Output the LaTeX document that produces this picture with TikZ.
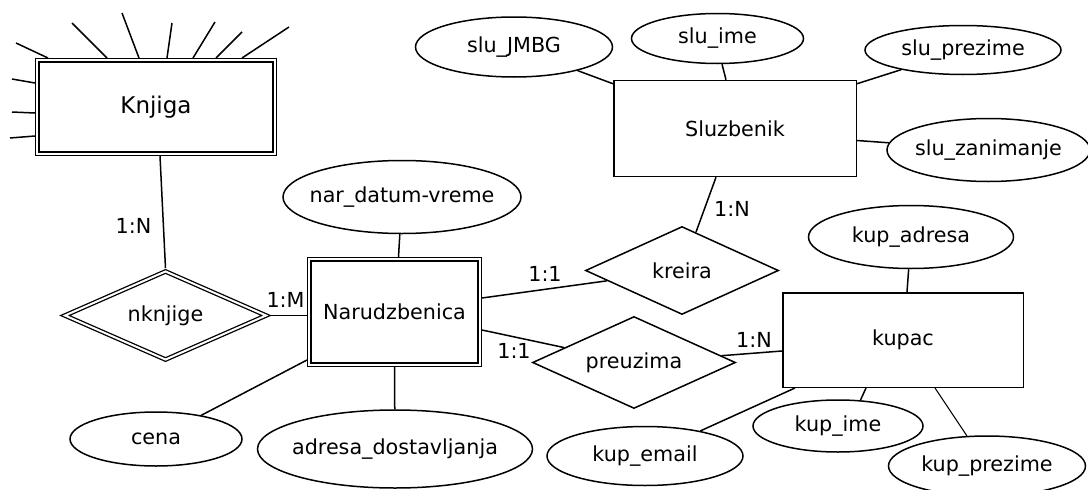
\documentclass[tikz,border=0pt]{standalone}
\usepackage{fontspec}
\setmainfont{DejaVu Sans}
\usetikzlibrary{shapes.geometric}
% zero-width label so the shape size comes only from the minimum dimensions
\newcommand\zw[1]{\makebox[0pt]{#1}}

\begin{document}
\begin{tikzpicture}[x=1pt,y=-1pt,
  every node/.style={font=\fontsize{20.7}{24}\selectfont},
  conn/.style={line width=1.5pt},
  thinconn/.style={line width=1pt},
  entity/.style={draw, rectangle, line width=1.5pt, inner sep=0pt},
  weakentity/.style={draw, rectangle, line width=1.3pt, double, double distance=2pt, outer sep=2.3pt, inner sep=0pt},
  attr/.style={draw, ellipse, line width=1.5pt, inner sep=0pt},
  rel/.style={draw, diamond, line width=1.5pt, inner sep=0pt},
  weakrel/.style={draw, diamond, line width=1.3pt, double, double distance=2pt, outer sep=2.3pt, inner sep=0pt},
  card/.style={inner sep=0pt},
]
\useasboundingbox (0,0) rectangle (1088,490);

% entities
\node[weakentity, minimum width=237.4pt, minimum height=93.4pt, font=\fontsize{23}{27}\selectfont] (knjiga) at (156,107) {Knjiga};
\node[weakentity, minimum width=170.4pt, minimum height=105.4pt] (nar) at (394.5,312) {Narudzbenica};
\node[entity, minimum width=242.5pt, minimum height=96pt] (sluz) at (735,128.5) {Sluzbenik};
\node[entity, minimum width=240.5pt, minimum height=94.5pt] (kupac) at (903,340) {kupac};

% relationships
\node[weakrel, minimum width=203pt, minimum height=90pt] (nknjige) at (165.5,315.5) {\zw{nknjige}};
\node[rel, minimum width=193pt, minimum height=88pt] (kreira) at (682,270.5) {\zw{kreira}};
\node[rel, minimum width=203pt, minimum height=92pt] (preuzima) at (634,362.5) {\zw{preuzima}};

% attributes
\node[attr, minimum width=238pt, minimum height=73pt] (datum) at (402,197) {\zw{nar\_datum-vreme}};
\node[attr, minimum width=172pt, minimum height=54pt] (cena) at (156,439) {\zw{cena}};
\node[attr, minimum width=275pt, minimum height=78pt] (adresa) at (395,449) {\zw{adresa\_dostavljanja}};
\node[attr, minimum width=197pt, minimum height=60pt] (jmbg) at (514,47) {\zw{slu\_JMBG}};
\node[attr, minimum width=172pt, minimum height=50pt] (sluime) at (717.5,38.5) {\zw{slu\_ime}};
\node[attr, minimum width=196pt, minimum height=49pt] (sluprez) at (963,50) {\zw{slu\_prezime}};
\node[attr, minimum width=203pt, minimum height=63pt] (sluzan) at (988.5,150) {\zw{slu\_zanimanje}};
\node[attr, minimum width=205pt, minimum height=63pt] (kupadr) at (911,237) {\zw{kup\_adresa}};
\node[attr, minimum width=196pt, minimum height=59pt] (kupemail) at (645,456) {\zw{kup\_email}};
\node[attr, minimum width=170pt, minimum height=52pt] (kupime) at (838,426) {\zw{kup\_ime}};
\node[attr, minimum width=197pt, minimum height=60pt] (kupprez) at (987,466) {\zw{kup\_prezime}};

% connectors
\draw[conn] ([xshift=4pt]knjiga.south) -- (nknjige.north);
\draw[conn] (nknjige.east) -- (nknjige.east -| nar.west);
\draw[conn] ([xshift=4pt]nar.north) -- (datum);
\draw[conn] ([yshift=7pt]nar.south west) -- (cena);
\draw[conn] (nar.south) -- (adresa);
\draw[conn] ([yshift=14pt]nar.east) -- (kreira);
\draw[conn] ([yshift=-18pt]nar.east) -- (preuzima);
\draw[conn] ([xshift=-19pt]sluz.south) -- (kreira);
\draw[conn] (preuzima) -- ([yshift=-11pt]kupac.west);
\draw[conn] ([xshift=4pt]kupac.north) -- (kupadr);
\draw[conn] ([xshift=13pt]kupac.south west) -- (kupemail);
\draw[conn] ([xshift=-37pt]kupac.south) -- (kupime.49);
\draw[thinconn] ([xshift=32pt]kupac.south) -- (kupprez);
\draw[conn] ([yshift=-4pt]sluz.north west) -- (jmbg);
\draw[conn] ([xshift=-9pt]sluz.north) -- (sluime.-80);
\draw[conn] ([yshift=-4pt]sluz.north east) -- (sluprez);
\draw[conn] ([yshift=-12pt]sluz.east) -- (sluzan);

% attribute stubs around Knjiga
\foreach \dx/\ex/\ey [count=\i] in {13/16/43, 72/72/23, 104/122/13, 132/172/23, 158/215/22, 181/242/32, 207/289/27} {
  \coordinate (kt\i) at (\ex,\ey);
  \draw[conn] ([xshift=\dx pt]knjiga.north west) -- (kt\i);
}
\foreach \dy/\ex/\ey [count=\i] in {25/12/79, 55/12/112, 78/10/138} {
  \coordinate (kl\i) at (\ex,\ey);
  \draw[conn] ([yshift=-\dy pt]knjiga.north west) -- (kl\i);
}

% cardinalities
\node[card] (c1) at (133.5,225.5) {1:N};
\node[card] (c2) at (285.5,299.5) {1:M};
\node[card] (c3) at (545,274) {1:1};
\node[card] (c4) at (732,209) {1:N};
\node[card] (c5) at (514,350.5) {1:1};
\node[card] (c6) at (754,340) {1:N};
\end{tikzpicture}
\end{document}
